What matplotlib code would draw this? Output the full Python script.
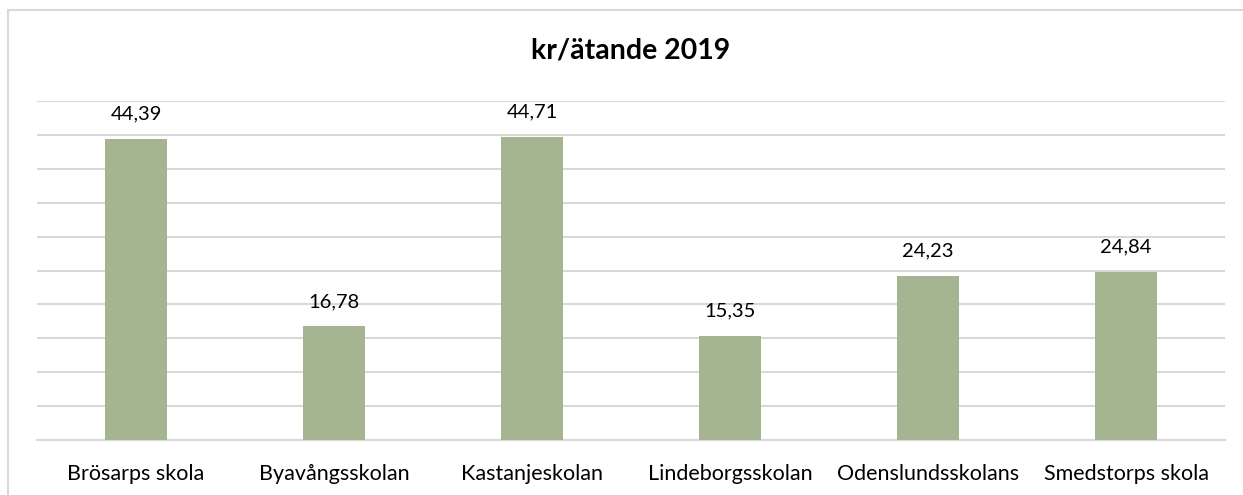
import numpy as np
from matplotlib import pyplot as plt
from matplotlib.patches import Rectangle

schools = ["Brösarps skola", "Byavångsskolan", "Kastanjeskolan",
           "Lindeborgsskolan", "Odenslundsskolans", "Smedstorps skola"]
values = [44.39, 16.78, 44.71, 15.35, 24.23, 24.84]
value_labels = ["44,39", "16,78", "44,71", "15,35", "24,23", "24,84"]

plt.rcParams['font.family'] = ['Lato', 'DejaVu Sans']

fig = plt.figure(figsize=(12.43, 4.95), dpi=100)
ax = fig.add_axes([37 / 1243, 1 - 440 / 495, 1188 / 1243, 339 / 495])

x = np.arange(len(schools))
ax.bar(x, values, width=0.313, color='#a5b592', zorder=3)
for xi, v, lab in zip(x, values, value_labels):
    ax.text(xi, v + 2.4, lab, ha='center', va='bottom', fontsize=14.5, color='#000000')

ax.set_xlim(-0.5, len(schools) - 0.5)
ax.set_ylim(0, 50)
ax.set_yticks(np.arange(0, 51, 5))
ax.yaxis.grid(True, color='#d9d9d9', linewidth=1.5, zorder=0)
ax.tick_params(axis='y', left=False, labelleft=False)
ax.tick_params(axis='x', bottom=False, labelsize=15.5, pad=14)
ax.set_xticks(x)
ax.set_xticklabels(schools)
for side in ['top', 'right', 'left']:
    ax.spines[side].set_visible(False)
ax.spines['bottom'].set_color('#d9d9d9')
ax.spines['bottom'].set_linewidth(1.5)

fig.text(631 / 1243, 1 - 50 / 495, "kr/ätande 2019", ha='center', va='center',
         fontsize=20.5, fontweight='bold')

# chart border
fig.patches.append(Rectangle((8 / 1243, -0.1), 1.2, 1 - 10 / 495 + 0.1,
                             transform=fig.transFigure, fill=False,
                             edgecolor='#d9d9d9', linewidth=1.5))

fig.savefig("out.png", dpi=100)
